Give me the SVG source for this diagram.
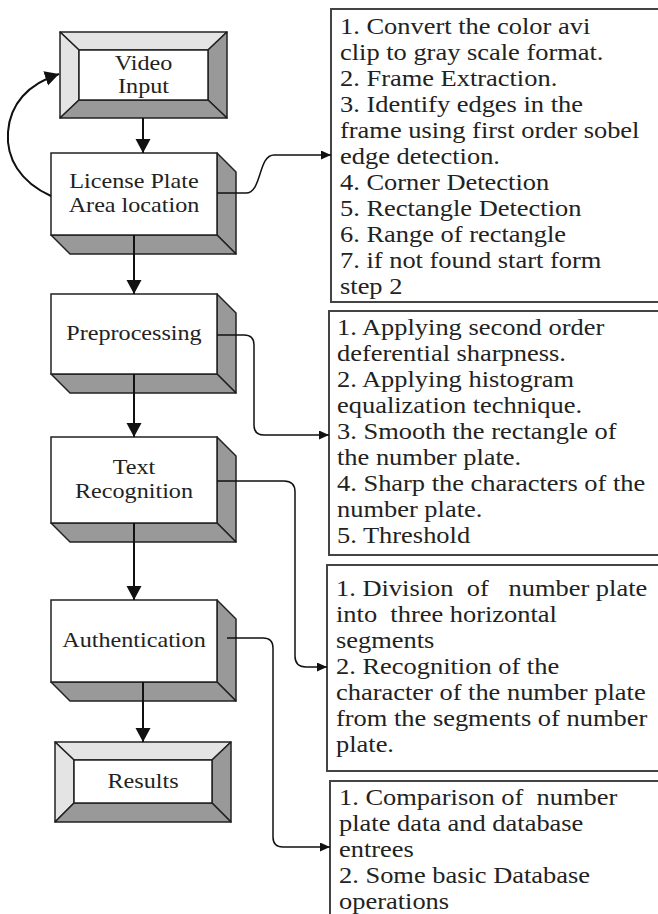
<svg xmlns="http://www.w3.org/2000/svg" width="658" height="914" viewBox="0 0 658 914">
<style>
.lbl{font-family:"Liberation Serif","Times New Roman",serif;font-size:21px;fill:#222;text-anchor:middle}
.txt{font-family:"Liberation Serif","Times New Roman",serif;font-size:23px;fill:#222;white-space:pre}
.light{fill:#e4e4e4;stroke:#222;stroke-width:1.5;stroke-linejoin:round}
.dark{fill:#999;stroke:#222;stroke-width:1.5;stroke-linejoin:round}
.face{fill:#fff;stroke:#222;stroke-width:1.5}
.note{fill:#fff;stroke:#444;stroke-width:2}
.main{fill:none;stroke:#111;stroke-width:2}
.side{fill:none;stroke:#111;stroke-width:1.5}
</style>
<defs>
<marker id="big" markerUnits="userSpaceOnUse" markerWidth="16" markerHeight="16" refX="14" refY="7.5" orient="auto"><path d="M0,0 L14,7.5 L0,15 Z" fill="#111"/></marker>
<marker id="small" markerUnits="userSpaceOnUse" markerWidth="12" markerHeight="10" refX="10" refY="4.5" orient="auto"><path d="M0,0 L10,4.5 L0,9 Z" fill="#111"/></marker>
</defs>
<rect width="658" height="914" fill="#fff"/>

<g id="note1">
<rect class="note" x="331" y="9" width="340" height="293"/>
<g transform="translate(340,0) scale(1.15,1)">
<text class="txt" x="0" y="34">1. Convert the color avi</text>
<text class="txt" x="0" y="60">clip to gray scale format.</text>
<text class="txt" x="0" y="86">2. Frame Extraction.</text>
<text class="txt" x="0" y="112">3. Identify edges in the</text>
<text class="txt" x="0" y="138">frame using first order sobel</text>
<text class="txt" x="0" y="164">edge detection.</text>
<text class="txt" x="0" y="190">4. Corner Detection</text>
<text class="txt" x="0" y="216">5. Rectangle Detection</text>
<text class="txt" x="0" y="242">6. Range of rectangle</text>
<text class="txt" x="0" y="268">7. if not found start form</text>
<text class="txt" x="0" y="294">step 2</text>
</g>
</g>
<g id="note2">
<rect class="note" x="329" y="311" width="340" height="244"/>
<g transform="translate(337,0) scale(1.15,1)">
<text class="txt" x="0" y="335">1. Applying second order</text>
<text class="txt" x="0" y="361">deferential sharpness.</text>
<text class="txt" x="0" y="387">2. Applying histogram</text>
<text class="txt" x="0" y="413">equalization technique.</text>
<text class="txt" x="0" y="439">3. Smooth the rectangle of</text>
<text class="txt" x="0" y="465">the number plate.</text>
<text class="txt" x="0" y="491">4. Sharp the characters of the</text>
<text class="txt" x="0" y="517">number plate.</text>
<text class="txt" x="0" y="543">5. Threshold</text>
</g>
</g>
<g id="note3">
<rect class="note" x="327" y="565" width="340" height="206"/>
<g transform="translate(336,0) scale(1.15,1)">
<text class="txt" x="0" y="596">1. Division  of   number plate</text>
<text class="txt" x="0" y="622">into  three horizontal</text>
<text class="txt" x="0" y="648">segments</text>
<text class="txt" x="0" y="674">2. Recognition of the</text>
<text class="txt" x="0" y="700">character of the number plate</text>
<text class="txt" x="0" y="726">from the segments of number</text>
<text class="txt" x="0" y="752">plate.</text>
</g>
</g>
<g id="note4">
<rect class="note" x="330" y="781" width="340" height="200"/>
<g transform="translate(339,0) scale(1.15,1)">
<text class="txt" x="0" y="805">1. Comparison of  number</text>
<text class="txt" x="0" y="831">plate data and database</text>
<text class="txt" x="0" y="857">entrees</text>
<text class="txt" x="0" y="883">2. Some basic Database</text>
<text class="txt" x="0" y="909">operations</text>
</g>
</g>

<g id="video-input">
<polygon class="light" points="60,32 227,32 208,50 79,50"/>
<polygon class="light" points="60,32 79,50 79,100 60,118"/>
<polygon class="dark" points="227,32 227,118 208,100 208,50"/>
<polygon class="dark" points="60,118 79,100 208,100 227,118"/>
<rect class="face" x="79" y="50" width="129" height="50"/>
<g transform="translate(143.5,0) scale(1.15,1)">
<text class="lbl" x="0" y="70">Video</text>
<text class="lbl" x="0" y="93">Input</text>
</g>
</g>

<g id="license-plate">
<polygon class="dark" points="217,153 236,172 236,254 217,235"/>
<polygon class="dark" points="51,235 217,235 236,254 70,254"/>
<rect class="face" x="51" y="153" width="166" height="82"/>
<g transform="translate(134,0) scale(1.15,1)">
<text class="lbl" x="0" y="188">License Plate</text>
<text class="lbl" x="0" y="212">Area location</text>
</g>
</g>

<g id="preprocessing">
<polygon class="dark" points="217,294 236,313 236,393 217,374"/>
<polygon class="dark" points="51,374 217,374 236,393 70,393"/>
<rect class="face" x="51" y="294" width="166" height="80"/>
<g transform="translate(134,0) scale(1.15,1)">
<text class="lbl" x="0" y="340">Preprocessing</text>
</g>
</g>

<g id="text-recognition">
<polygon class="dark" points="217,437 236,456 236,542 217,523"/>
<polygon class="dark" points="51,523 217,523 236,542 70,542"/>
<rect class="face" x="51" y="437" width="166" height="86"/>
<g transform="translate(134,0) scale(1.15,1)">
<text class="lbl" x="0" y="474">Text</text>
<text class="lbl" x="0" y="498">Recognition</text>
</g>
</g>

<g id="authentication">
<polygon class="dark" points="217,600 236,619 236,701 217,682"/>
<polygon class="dark" points="51,682 217,682 236,701 70,701"/>
<rect class="face" x="51" y="600" width="166" height="82"/>
<g transform="translate(134,0) scale(1.15,1)">
<text class="lbl" x="0" y="647">Authentication</text>
</g>
</g>

<g id="results">
<polygon class="light" points="55,742 231,742 212,760 74,760"/>
<polygon class="light" points="55,742 74,760 74,803 55,822"/>
<polygon class="dark" points="231,742 231,822 212,803 212,760"/>
<polygon class="dark" points="55,822 74,803 212,803 231,822"/>
<rect class="face" x="74" y="760" width="138" height="43"/>
<g transform="translate(143,0) scale(1.15,1)">
<text class="lbl" x="0" y="788">Results</text>
</g>
</g>

<g id="connectors">
<path class="main" d="M143,118 V153" marker-end="url(#big)"/>
<path class="main" d="M134,235 V294" marker-end="url(#big)"/>
<path class="main" d="M134,374 V437" marker-end="url(#big)"/>
<path class="main" d="M134,523 V600" marker-end="url(#big)"/>
<path class="main" d="M143,682 V742" marker-end="url(#big)"/>
<path class="main" d="M51,196 C20,182 6,158 8,132 C10,104 28,84 59,74" marker-end="url(#big)"/>
<path class="side" d="M217,193 H246 C262,193 258,155 274,155 H331" marker-end="url(#small)"/>
<path class="side" d="M217,335 H244 Q254,335 254,345 V425 Q254,435 264,435 H329" marker-end="url(#small)"/>
<path class="side" d="M217,481 H284 Q295,481 295,492 V656 Q295,667 306,667 H327" marker-end="url(#small)"/>
<path class="side" d="M227,638 H263 Q273,638 273,648 V837 Q273,847 283,847 H330" marker-end="url(#small)"/>
</g>
</svg>
